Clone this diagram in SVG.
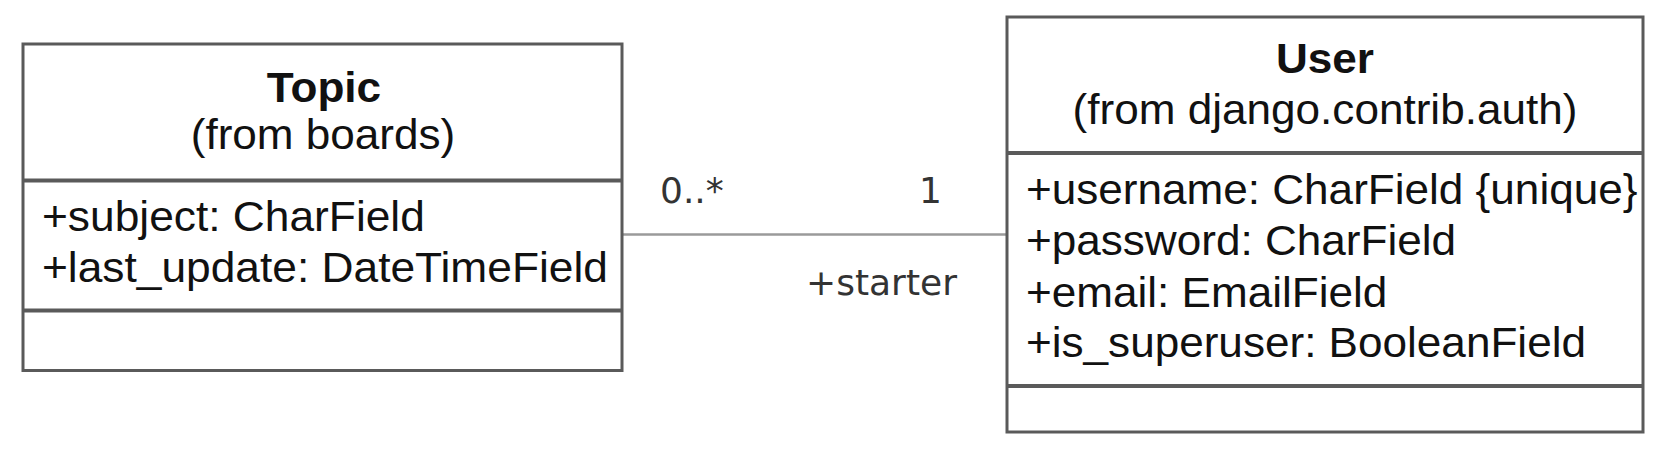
<svg xmlns="http://www.w3.org/2000/svg" width="1674" height="459" viewBox="0 0 1674 459">
<style>
.box{fill:#fff;stroke:#5a5a5a;stroke-width:3}
.sep{stroke:#5a5a5a;stroke-width:4}
.title{font-family:"Liberation Sans",Arial,sans-serif;font-size:42px;font-weight:bold;fill:#111;text-anchor:middle}
.sub{font-family:"Liberation Sans",Arial,sans-serif;font-size:42px;fill:#111;text-anchor:middle}
.attr{font-family:"Liberation Sans",Arial,sans-serif;font-size:42px;fill:#111}
.lbl{font-family:"DejaVu Sans",sans-serif;font-size:36px;fill:#333}
.conn{stroke:#9a9a9a;stroke-width:2.5;fill:none}
</style>
<rect width="1674" height="459" fill="#fff"/>
<g id="connectors">
<line class="conn" x1="622" y1="234.5" x2="1007" y2="234.5"/>
<text class="lbl" x="660" y="203">0..*</text>
<text class="lbl" x="919" y="203">1</text>
<text class="lbl" x="806" y="295">+starter</text>
</g>
<g id="topic">
<rect class="box" x="23" y="44" width="599" height="326.5"/>
<line class="sep" x1="23" y1="180.5" x2="622" y2="180.5"/>
<line class="sep" x1="23" y1="310.5" x2="622" y2="310.5"/>
<text class="title" transform="translate(324 102) scale(1.05 1)">Topic</text>
<text class="sub" transform="translate(323 149) scale(1.05 1)">(from boards)</text>
<text class="attr" transform="translate(42 231) scale(1.055 1)">+subject: CharField</text>
<text class="attr" transform="translate(42 282) scale(1.055 1)">+last_update: DateTimeField</text>
</g>
<g id="user">
<rect class="box" x="1007" y="17" width="636" height="415"/>
<line class="sep" x1="1007" y1="153" x2="1643" y2="153"/>
<line class="sep" x1="1007" y1="386" x2="1643" y2="386"/>
<text class="title" transform="translate(1325 73) scale(1.05 1)">User</text>
<text class="sub" transform="translate(1325 124) scale(1.05 1)">(from django.contrib.auth)</text>
<text class="attr" transform="translate(1026 204) scale(1.05 1)">+username: CharField {unique}</text>
<text class="attr" transform="translate(1026 255) scale(1.05 1)">+password: CharField</text>
<text class="attr" transform="translate(1026 307) scale(1.05 1)">+email: EmailField</text>
<text class="attr" transform="translate(1026 357) scale(1.05 1)">+is_superuser: BooleanField</text>
</g>
</svg>
